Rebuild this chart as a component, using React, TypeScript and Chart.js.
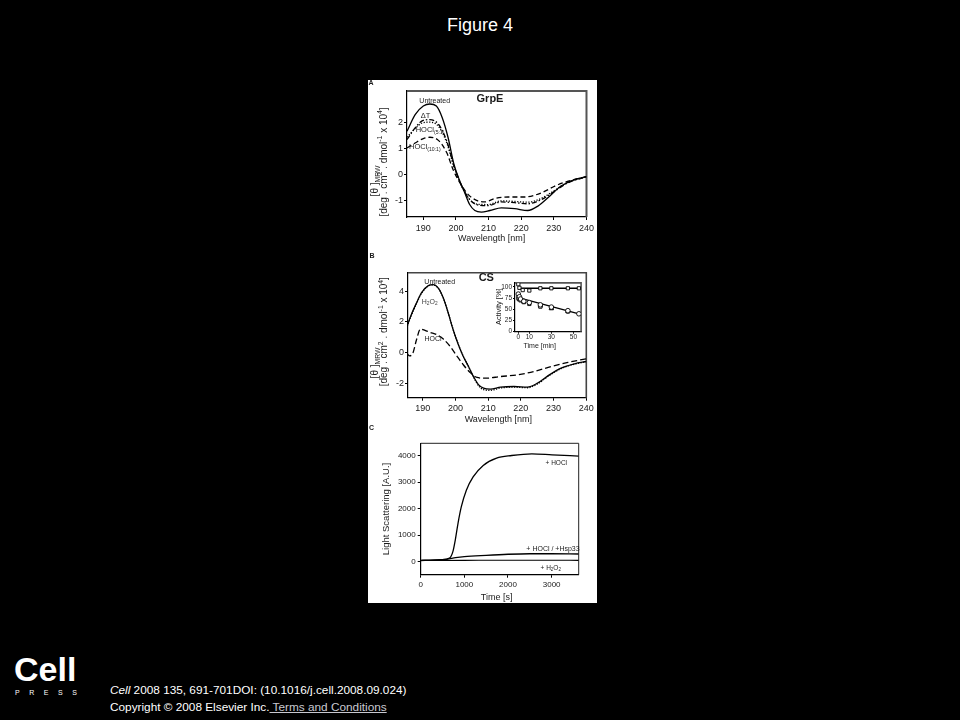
import React, { useEffect, useRef } from "react";
import { Chart, registerables } from "chart.js";

Chart.register(...registerables);

const FONT = "'Liberation Sans', Arial, Helvetica, sans-serif";

// ---------- Panel A (GrpE CD spectra) ----------
const wlUntreatedA = [185, 187.5, 190, 192, 194, 195.8, 197.6, 199.4, 201.2, 202.7, 204.2, 205.8, 207.8, 210.4, 213.9, 218, 222, 225.1, 228.7, 232.2, 236.3, 240];
const untreatedA = [1.65, 2.29, 2.62, 2.7, 2.62, 2.17, 1.4, 0.37, -0.27, -0.72, -1.17, -1.4, -1.46, -1.4, -1.3, -1.33, -1.4, -1.23, -0.85, -0.46, -0.21, -0.1];
const wlDeltaTA = [185, 187.5, 189.5, 192, 194.7, 197.2, 199.4, 201.8, 204.2, 206.8, 209.8, 213.9, 218, 222, 226.2, 230.3, 234.4, 240];
const deltaTA = [1.33, 1.78, 2.04, 2.1, 1.91, 1.27, 0.31, -0.46, -0.98, -1.19, -1.21, -1.07, -1.1, -1.14, -0.98, -0.65, -0.33, -0.1];
const hocl5A = [1.42, 1.76, 1.96, 2.0, 1.83, 1.2, 0.27, -0.48, -0.97, -1.16, -1.17, -1.03, -1.05, -1.08, -0.93, -0.62, -0.31, -0.1];
const wlHocl10A = [185, 187.5, 190, 192, 194.7, 197.2, 199.1, 201.2, 203.7, 206.3, 208.8, 211.9, 216, 221, 226.2, 230.3, 234.4, 240];
const hocl10A = [1.01, 1.2, 1.37, 1.42, 1.29, 0.82, 0.18, -0.33, -0.78, -1.01, -1.07, -0.94, -0.88, -0.88, -0.72, -0.46, -0.27, -0.1];
const xTicksA = [190, 200, 210, 220, 230, 240];
const yTicksA = [-1, 0, 1, 2];

// ---------- Panel B (CS CD spectra) ----------
const wlUntreatedB = [185, 186.5, 188.1, 189.6, 191.7, 193.2, 194.7, 196.3, 197.8, 199.3, 200.9, 202.4, 204, 205.5, 207.1, 208.6, 210.7, 213.8, 217.9, 222, 225.1, 228.7, 232.3, 236.4, 240];
const untreatedB = [1.59, 2.46, 3.23, 3.88, 4.36, 4.42, 4.21, 3.55, 2.57, 1.48, 0.5, -0.26, -0.92, -1.57, -2.11, -2.33, -2.39, -2.26, -2.22, -2.26, -2.0, -1.46, -1.02, -0.74, -0.59];
const h2o2B = [1.55, 2.4, 3.18, 3.85, 4.33, 4.4, 4.2, 3.55, 2.58, 1.5, 0.52, -0.25, -0.92, -1.6, -2.18, -2.42, -2.47, -2.32, -2.26, -2.3, -2.05, -1.5, -1.05, -0.76, -0.6];
const wlHoclB = [185, 186, 187, 188.1, 189.3, 190.7, 192.2, 194.3, 196.3, 198.4, 200.4, 202.4, 204.5, 206.6, 209.1, 213.8, 218.9, 224.1, 229.2, 234.4, 240];
const hoclB = [-0.04, -0.22, -0.04, 0.83, 1.53, 1.44, 1.31, 1.16, 0.87, 0.39, -0.22, -0.8, -1.31, -1.63, -1.68, -1.57, -1.46, -1.24, -0.92, -0.65, -0.41];
const xTicksB = [190, 200, 210, 220, 230, 240];
const yTicksB = [-2, 0, 2, 4];

// ---------- Inset (activity) ----------
const timeCtrl = [0, 1, 4, 10, 20, 30, 45, 55];
const actCtrl = [106, 98, 93, 92, 97, 97, 97, 97];
const timeCtrlFit = [0, 55];
const actCtrlFit = [97, 97];
const timeCirc = [0, 1, 2, 5, 10, 20, 30, 45, 55];
const actCirc = [84, 78, 73, 68, 65, 60, 55, 47, 40];
const timeSq = [0, 2, 5, 10, 20, 30, 45];
const actSq = [75, 70, 66, 62, 56, 53, 45];
const timeTri = [1, 5, 20, 30, 45];
const actTri = [72, 67, 58, 52, 46];
const timeDecayFit = [0, 55];
const actDecayFit = [76, 40];
const xTicksInset = [0, 10, 30, 50];
const yTicksInset = [0, 25, 50, 75, 100];

// ---------- Panel C (light scattering) ----------
const timeHocl = [0, 469, 662, 739, 793, 855, 931, 1046, 1201, 1432, 1739, 2085, 2547, 3009, 3620];
const scatHocl = [52, 75, 138, 389, 822, 1447, 2071, 2692, 3192, 3626, 3902, 4000, 4064, 4026, 3977];
const timeHsp = [0, 300, 600, 800, 1000, 1500, 2000, 2500, 3000, 3620];
const scatHsp = [40, 60, 90, 150, 190, 240, 280, 300, 300, 290];
const timeH2o2 = [0, 1000, 2000, 3000, 3620];
const scatH2o2 = [45, 50, 55, 55, 50];
const xTicksC = [0, 1000, 2000, 3000];
const yTicksC = [0, 1000, 2000, 3000, 4000];

type Seg = { t: string; k?: "sub" | "sup" };
const T = (t: string, k?: "sub" | "sup"): Seg => ({ t, k });
type Label = { segs: Seg[]; x: number; y: number; size: number; align?: "left" | "center" | "right"; weight?: string; rot?: boolean; color?: string };

function drawRich(ctx: CanvasRenderingContext2D, l: Label, x: number, y: number) {
  const weight = l.weight || "normal";
  const sizes = l.segs.map((s) => (s.k ? l.size * 0.68 : l.size));
  const widths = l.segs.map((s, i) => {
    ctx.font = `${weight} ${sizes[i]}px ${FONT}`;
    return ctx.measureText(s.t).width;
  });
  const total = widths.reduce((a, b) => a + b, 0);
  const align = l.align || "center";
  let cx = align === "center" ? x - total / 2 : align === "right" ? x - total : x;
  ctx.fillStyle = l.color || "#1a1a1a";
  ctx.textBaseline = "middle";
  ctx.textAlign = "left";
  l.segs.forEach((s, i) => {
    ctx.font = `${weight} ${sizes[i]}px ${FONT}`;
    const dy = s.k === "sub" ? l.size * 0.32 : s.k === "sup" ? -l.size * 0.38 : 0;
    ctx.fillText(s.t, cx, y + dy);
    cx += widths[i];
  });
}

const labelsPlugin = (labels: Label[]) => ({
  id: "labels",
  afterDraw(chart: any) {
    const ctx: CanvasRenderingContext2D = chart.ctx;
    labels.forEach((l) => {
      ctx.save();
      if (l.rot) {
        ctx.translate(l.x, l.y);
        ctx.rotate(-Math.PI / 2);
        drawRich(ctx, l, 0, 0);
      } else {
        drawRich(ctx, l, l.x, l.y);
      }
      ctx.restore();
    });
  },
});

const framePlugin = (color: string, lw: number) => ({
  id: "frame",
  beforeDatasetsDraw(chart: any) {
    const { ctx, chartArea: a } = chart;
    ctx.save();
    ctx.strokeStyle = color;
    ctx.lineWidth = lw;
    ctx.beginPath();
    ctx.moveTo(a.left, a.top);
    ctx.lineTo(a.right, a.top);
    ctx.lineTo(a.right, a.bottom);
    ctx.stroke();
    ctx.restore();
  },
});

function axis(min: number, max: number, ticks: number[], fontSize: number, fix: { width?: number; height?: number }, tickLen: number, pad: number) {
  return {
    type: "linear",
    min,
    max,
    afterBuildTicks: (s: any) => {
      s.ticks = ticks.map((v) => ({ value: v }));
    },
    afterFit: (s: any) => {
      if (fix.width != null) s.width = fix.width;
      if (fix.height != null) s.height = fix.height;
    },
    grid: { display: true, drawOnChartArea: false, drawTicks: true, tickLength: tickLen, color: "#000", lineWidth: 1 },
    border: { display: true, color: "#000", width: 1.2 },
    ticks: {
      font: { family: FONT, size: fontSize },
      color: "#1a1a1a",
      padding: pad,
      maxRotation: 0,
      autoSkip: false,
      callback: (v: any) => String(v),
    },
  };
}

const pts = (xs: number[], ys: number[]) => xs.map((x, i) => ({ x, y: ys[i] }));

function lineDs(xs: number[], ys: number[], dash: number[], width = 1.3) {
  return {
    data: pts(xs, ys),
    borderColor: "#000",
    borderWidth: width,
    borderDash: dash,
    pointRadius: 0,
    fill: false,
    cubicInterpolationMode: "monotone",
    tension: 0.4,
  };
}

function baseOptions(pad: { top: number; right: number }, x: any, y: any) {
  return {
    responsive: false,
    animation: false,
    events: [],
    layout: { padding: { top: pad.top, right: pad.right, left: 0, bottom: 0 } },
    plugins: { legend: { display: false }, tooltip: { enabled: false } },
    scales: { x, y },
  };
}

const yTitleLine2: Seg[] = [T("[deg . cm"), T("2", "sup"), T(" . dmol"), T("-1", "sup"), T(" x 10"), T("4", "sup"), T("]")];

function configA() {
  const labels: Label[] = [
    { segs: [T("A")], x: 3, y: 3.5, size: 7, weight: "bold", align: "center" },
    { segs: [T("GrpE")], x: 122, y: 18.7, size: 11, weight: "bold" },
    { segs: [T("Untreated")], x: 66.7, y: 20.7, size: 7 },
    { segs: [T("ΔT")], x: 57.5, y: 36.3, size: 7.5 },
    { segs: [T("HOCl"), T("(5:1)", "sub")], x: 47.7, y: 50, size: 7.5, align: "left" },
    { segs: [T("HOCl"), T("(10:1)", "sub")], x: 41, y: 67, size: 7.5, align: "left" },
    { segs: [T("Wavelength [nm]")], x: 123.7, y: 158.3, size: 9 },
    { segs: [T("[θ ]"), T("MRW", "sub")], x: 7, y: 101, size: 10, rot: true },
    { segs: yTitleLine2, x: 16, y: 82, size: 10, rot: true },
  ];
  return {
    type: "line",
    data: {
      datasets: [
        lineDs(wlUntreatedA, untreatedA, []),
        lineDs(wlDeltaTA, deltaTA, [5, 2, 1.5, 2]),
        lineDs(wlDeltaTA, hocl5A, [1.2, 1.6]),
        lineDs(wlHocl10A, hocl10A, [5, 3]),
      ],
    },
    options: baseOptions(
      { top: 11, right: 10.5 },
      axis(185, 240, xTicksA, 9, { height: 33 }, 3, 3),
      axis(-1.65, 3.2, yTicksA, 9, { width: 39 }, 3, 1)
    ),
    plugins: [framePlugin("#555", 2), labelsPlugin(labels)],
  };
}

function configB() {
  const labels: Label[] = [
    { segs: [T("B")], x: 4, y: 6.5, size: 7, weight: "bold" },
    { segs: [T("CS")], x: 118.3, y: 28.3, size: 11, weight: "bold" },
    { segs: [T("Untreated")], x: 71.7, y: 31.7, size: 7 },
    { segs: [T("H"), T("2", "sub"), T("O"), T("2", "sub")], x: 61.7, y: 51.7, size: 7, color: "#444" },
    { segs: [T("HOCl")], x: 65, y: 89.3, size: 7 },
    { segs: [T("Wavelength [nm]")], x: 130.3, y: 170, size: 9 },
    { segs: [T("[θ ]"), T("MRW", "sub")], x: 7.3, y: 113, size: 10, rot: true },
    { segs: yTitleLine2, x: 16.7, y: 81.7, size: 10, rot: true },
  ];
  return {
    type: "line",
    data: {
      datasets: [
        lineDs(wlUntreatedB, untreatedB, []),
        lineDs(wlUntreatedB, h2o2B, [1.2, 1.4]),
        lineDs(wlHoclB, hoclB, [6, 3]),
      ],
    },
    options: baseOptions(
      { top: 22.7, right: 10.7 },
      axis(185.5, 240, xTicksB, 9, { height: 27.3 }, 3, 2),
      axis(-2.95, 5.2, yTicksB, 9, { width: 40 }, 3, 1)
    ),
    plugins: [framePlugin("#444", 1.6), labelsPlugin(labels)],
  };
}

function markerDs(xs: number[], ys: number[], style: string) {
  return {
    data: pts(xs, ys),
    showLine: false,
    pointStyle: style,
    pointRadius: style === "triangle" ? 2.6 : 2.3,
    pointBackgroundColor: "#fff",
    pointBorderColor: "#000",
    pointBorderWidth: 0.9,
    borderColor: "#000",
  };
}

function configInset() {
  const labels: Label[] = [
    { segs: [T("Activity [%]")], x: 13, y: 28.7, size: 7.5, rot: true },
    { segs: [T("Time [min]")], x: 53.7, y: 68, size: 7 },
  ];
  const fit = (xs: number[], ys: number[]) => ({
    data: pts(xs, ys),
    borderColor: "#000",
    borderWidth: 1.3,
    pointRadius: 0,
    tension: 0,
    fill: false,
  });
  return {
    type: "line",
    data: {
      datasets: [
        markerDs(timeCtrl, actCtrl, "rect"),
        markerDs(timeCirc, actCirc, "circle"),
        markerDs(timeSq, actSq, "rect"),
        markerDs(timeTri, actTri, "triangle"),
        fit(timeCtrlFit, actCtrlFit),
        fit(timeDecayFit, actDecayFit),
      ],
    },
    options: baseOptions(
      { top: 4.7, right: 4.5 },
      axis(-3, 57, xTicksInset, 6.5, { height: 22.3 }, 2, 0),
      axis(0, 109, yTicksInset, 6.5, { width: 29 }, 2, 1)
    ),
    plugins: [framePlugin("#555", 1.6), labelsPlugin(labels)],
  };
}

function configC() {
  const labels: Label[] = [
    { segs: [T("C")], x: 3.5, y: 3.5, size: 7, weight: "bold" },
    { segs: [T("+ HOCl")], x: 188.3, y: 38.3, size: 6.5 },
    { segs: [T("+ HOCl / +Hsp33")], x: 185, y: 124, size: 7 },
    { segs: [T("+ H"), T("2", "sub"), T("O"), T("2", "sub")], x: 182.7, y: 143, size: 6.5 },
    { segs: [T("Time [s]")], x: 128.7, y: 172.5, size: 9 },
    { segs: [T("Light Scattering [A.U.]")], x: 18.3, y: 84, size: 9.5, rot: true },
  ];
  return {
    type: "line",
    data: {
      datasets: [
        lineDs(timeHocl, scatHocl, [], 1.3),
        lineDs(timeHsp, scatHsp, [], 1.3),
        lineDs(timeH2o2, scatH2o2, [], 1.1),
      ],
    },
    options: baseOptions(
      { top: 18.3, right: 18.3 },
      axis(0, 3620, xTicksC, 8, { height: 28.3 }, 3, 2),
      axis(-490, 4460, yTicksC, 8, { width: 52.7 }, 3, 2)
    ),
    plugins: [framePlugin("#222", 1), labelsPlugin(labels)],
  };
}

function ChartCanvas({ left, top, width, height, make }: { left: number; top: number; width: number; height: number; make: () => any }) {
  const ref = useRef<HTMLCanvasElement>(null);
  useEffect(() => {
    if (!ref.current) return;
    const chart = new Chart(ref.current, make());
    return () => chart.destroy();
  }, []);
  return <canvas ref={ref} width={width} height={height} style={{ position: "absolute", left, top, width, height }} />;
}

export default function App() {
  return (
    <div style={{ position: "fixed", left: 0, top: 0, width: 960, height: 720, background: "#000", overflow: "hidden", fontFamily: FONT }}>
      <div style={{ position: "absolute", left: 0, top: 16, width: 960, textAlign: "center", color: "#fff", fontSize: 18, lineHeight: "18px" }}>Figure 4</div>
      <div style={{ position: "absolute", left: 368, top: 80, width: 229, height: 523, background: "#fff" }} />
      <ChartCanvas left={368} top={80} width={229} height={170} make={configA} />
      <ChartCanvas left={368} top={250} width={229} height={175} make={configB} />
      <ChartCanvas left={486} top={278} width={100} height={76} make={configInset} />
      <ChartCanvas left={368} top={425} width={229} height={178} make={configC} />
      <div style={{ position: "absolute", left: 14, top: 655, color: "#fff", fontSize: 34, fontWeight: "bold", lineHeight: "28px", height: 28, letterSpacing: 0 }}>Cell</div>
      <div style={{ position: "absolute", left: 15, top: 689, width: 62, display: "flex", justifyContent: "space-between", color: "#fff", fontSize: 7, lineHeight: "7px" }}>
        <span>P</span><span>R</span><span>E</span><span>S</span><span>S</span>
      </div>
      <div style={{ position: "absolute", left: 110, top: 682, color: "#fff", fontSize: 11.8, lineHeight: "16.6px", whiteSpace: "nowrap" }}>
        <div><i>Cell</i> 2008 135, 691-701DOI: (10.1016/j.cell.2008.09.024)</div>
        <div>
          Copyright © 2008 Elsevier Inc.<span style={{ textDecoration: "underline", color: "#c8c8d0" }}> Terms and Conditions</span>
        </div>
      </div>
    </div>
  );
}
